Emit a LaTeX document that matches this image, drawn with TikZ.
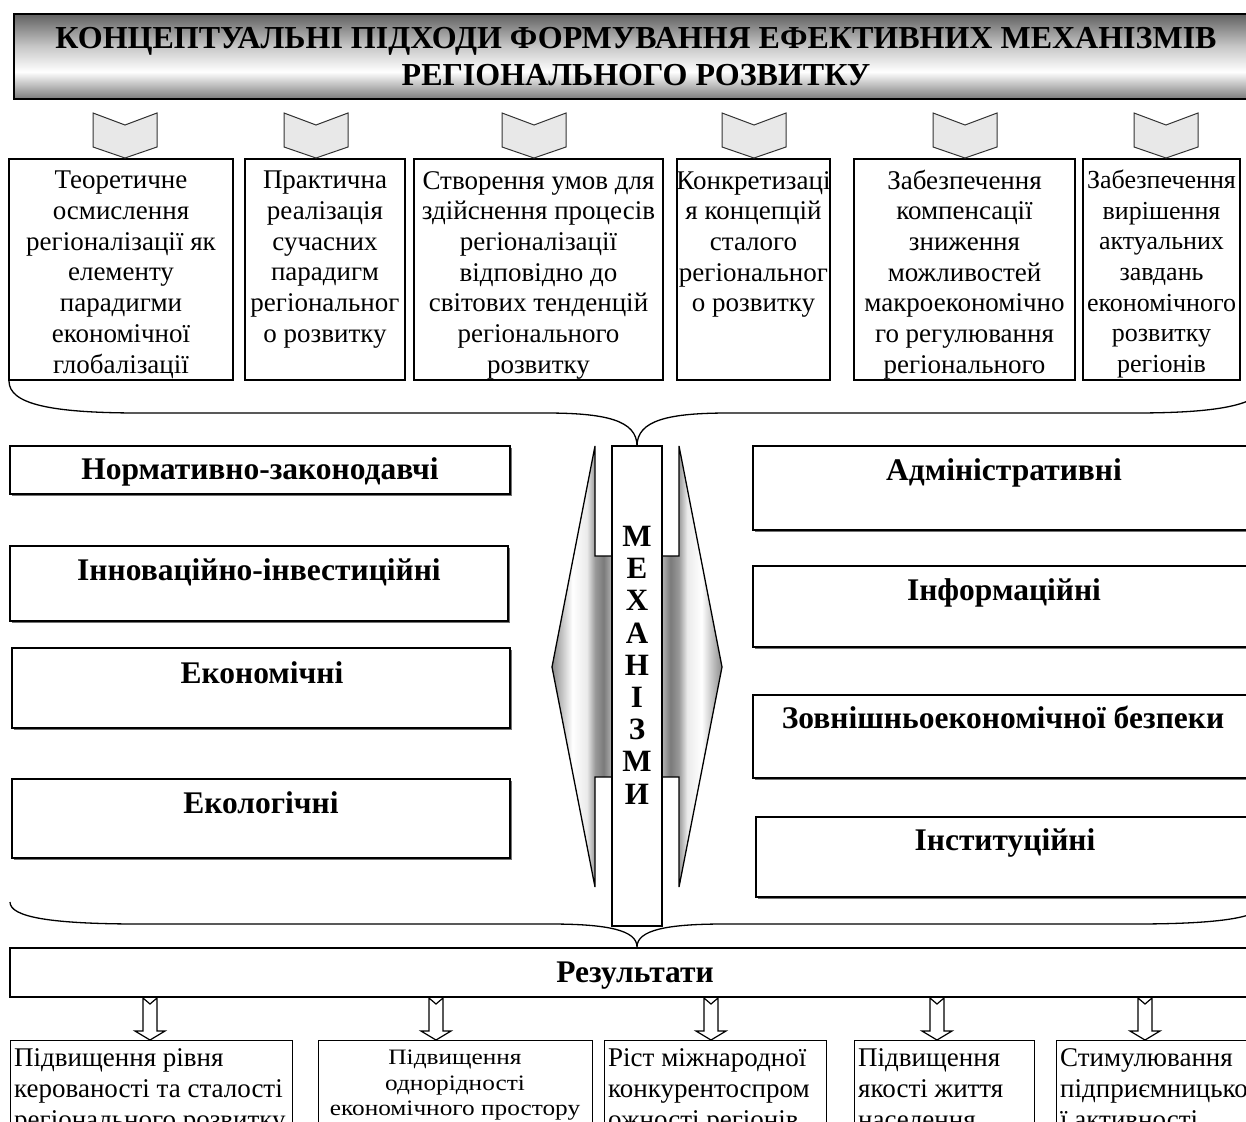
\documentclass[tikz,border=0pt]{standalone}
\usepackage{fontspec}
\setmainfont{Liberation Serif}
\usetikzlibrary{shadows,calc}
\pgfdeclareverticalshading{titleshade}{100bp}{color(0bp)=(black!52); color(25bp)=(black!52); color(41bp)=(white); color(56bp)=(black!22); color(75bp)=(black!62); color(100bp)=(black!62)}
\pgfdeclarehorizontalshading{lshade}{100bp}{color(0bp)=(black!45); color(25bp)=(black!45); color(42bp)=(white); color(54bp)=(black!8); color(61bp)=(black!40); color(68bp)=(black!52); color(75bp)=(black!30); color(100bp)=(black!30)}
\pgfdeclarehorizontalshading{rshade}{100bp}{color(0bp)=(black!30); color(25bp)=(black!30); color(32bp)=(black!52); color(39bp)=(black!40); color(46bp)=(black!8); color(58bp)=(white); color(75bp)=(black!45); color(100bp)=(black!45)}
\begin{document}
\begin{tikzpicture}[x=1pt,y=-1pt,
  box/.style={draw=black, line width=1.4pt, fill=white, rectangle, inner sep=0pt},
  sbox/.style={box, drop shadow={shadow xshift=1.6pt, shadow yshift=-1.6pt, fill=black!55, opacity=1}},
  ttxt/.style={inner sep=0pt, align=center, anchor=north, font=\fontsize{27}{30.7}\selectfont},
  btxt/.style={inner sep=0pt, align=left, anchor=north west, font=\fontsize{27}{31}\selectfont},
  mtxt/.style={inner sep=0pt, anchor=base, font=\bfseries\fontsize{31.5}{36}\selectfont},
  chev/.style={fill=black!9, draw=black!80, line width=1pt},
  hollow/.style={fill=white, draw=black, line width=1.2pt},
  brace/.style={draw=black, line width=1.3pt}
]
\useasboundingbox (0,0) rectangle (1246,1121);
\clip (0,0) rectangle (1246,1121);

% title
\node[draw=black, line width=1.4pt, shading=titleshade, minimum width=1244, minimum height=85, inner sep=0pt] (title) at (636,56.5) {};
\node[inner sep=0pt, align=center, font=\bfseries\fontsize{32}{37}\selectfont] (titletext) at (636,57) {КОНЦЕПТУАЛЬНІ ПІДХОДИ ФОРМУВАННЯ ЕФЕКТИВНИХ МЕХАНІЗМІВ\\РЕГІОНАЛЬНОГО РОЗВИТКУ};

% top boxes
\node[box, minimum width=224, minimum height=221] (b1) at (121,269.5) {};
\node[box, minimum width=160, minimum height=221] (b2) at (325,269.5) {};
\node[box, minimum width=249, minimum height=221] (b3) at (538.5,269.5) {};
\node[box, minimum width=153, minimum height=221] (b4) at (753.5,269.5) {};
\node[box, minimum width=221, minimum height=221] (b5) at (964.5,269.5) {};
\node[box, minimum width=157, minimum height=221] (b6) at (1161.5,269.5) {};

\node[ttxt] (t1) at (121,171) {Теоретичне\\осмислення\\регіоналізації як\\елементу\\парадигми\\економічної\\глобалізації};
\node[ttxt] (t2) at (325,171) {Практична\\реалізація\\сучасних\\парадигм\\регіональног\\о розвитку};
\node[ttxt] (t3) at (538.5,171) {Створення умов для\\здійснення процесів\\регіоналізації\\відповідно до\\світових тенденцій\\регіонального\\розвитку};
\node[ttxt] (t4) at (753.5,171) {Конкретизаці\\я концепцій\\сталого\\регіональног\\о розвитку};
\node[ttxt] (t5) at (964.5,169.5) {Забезпечення\\компенсації\\зниження\\можливостей\\макроекономічно\\го регулювання\\регіонального};
\node[ttxt, font=\fontsize{26}{30.7}\selectfont] (t6) at (1161.5,169.5) {Забезпечення\\вирішення\\актуальних\\завдань\\економічного\\розвитку\\регіонів};

% chevrons
\foreach \cx in {125,316,534,754,965,1166}{
  \path[chev] (\cx-32,113) -- (\cx,125) -- (\cx+32,113) -- (\cx+32,147) -- (\cx,158) -- (\cx-32,147) -- cycle;
}

% braces
\coordinate (br1L) at (9,381);
\coordinate (br1T) at (637,446);
\coordinate (br1R) at (1265,381);
\draw[brace] (br1L) .. controls (9,404) and (50,413) .. (140,413) -- (545,413) .. controls (605,413) and (637,420) .. (br1T) .. controls (637,420) and (669,413) .. (729,413) -- (1134,413) .. controls (1224,413) and (1265,404) .. (br1R);
\coordinate (br2L) at (10,902);
\coordinate (br2T) at (637,947);
\coordinate (br2R) at (1264,902);
\draw[brace] (br2L) .. controls (10,917) and (50,924) .. (140,924) -- (550,924) .. controls (607,924) and (637,930) .. (br2T) .. controls (637,930) and (667,924) .. (724,924) -- (1134,924) .. controls (1224,924) and (1264,917) .. (br2R);

% central arrows
\path[shading=lshade, draw=black, line width=1.3pt] (612,556) -- (595,556) -- (595,446) -- (552,667) -- (595,887) -- (595,777) -- (612,777) -- cycle;
\path[shading=rshade, draw=black, line width=1.3pt] (662,556) -- (679,556) -- (679,446) -- (722,667) -- (679,887) -- (679,777) -- (662,777) -- cycle;

% column
\node[box, minimum width=50, minimum height=480] (col) at (637,686) {};
\node[inner sep=0pt, anchor=north, align=center, font=\bfseries\fontsize{31}{32.2}\selectfont] (coltext) at (637,526) {М\\Е\\Х\\А\\Н\\І\\З\\М\\И};

% left boxes
\node[sbox, minimum width=500, minimum height=48] (l1) at (260,470) {};
\node[sbox, minimum width=498, minimum height=75] (l2) at (259,583.5) {};
\node[sbox, minimum width=498, minimum height=80] (l3) at (261,688) {};
\node[sbox, minimum width=498, minimum height=79] (l4) at (261,818.5) {};
\node[mtxt] (l1t) at (260,479) {Нормативно-законодавчі};
\node[mtxt] (l2t) at (259,580) {Інноваційно-інвестиційні};
\node[mtxt] (l3t) at (262,683) {Економічні};
\node[mtxt] (l4t) at (261,813) {Екологічні};

% right boxes
\node[sbox, minimum width=503, minimum height=84] (r1) at (1004.5,488) {};
\node[sbox, minimum width=503, minimum height=81] (r2) at (1004.5,606.5) {};
\node[sbox, minimum width=503, minimum height=83] (r3) at (1004.5,736.5) {};
\node[sbox, minimum width=500, minimum height=80] (r4) at (1006,857) {};
\node[mtxt] (r1t) at (1004,480) {Адміністративні};
\node[mtxt] (r2t) at (1004,600) {Інформаційні};
\node[mtxt] (r3t) at (1003,728) {Зовнішньоекономічної безпеки};
\node[mtxt] (r4t) at (1005,850) {Інституційні};

% results
\node[box, minimum width=1250, minimum height=49] (res) at (635,972.5) {};
\node[mtxt] (rest) at (635,982) {Результати};

% hollow arrows
\foreach \cx in {150,436,711,937,1145}{
  \path[hollow] (\cx-7,998) -- (\cx,1004) -- (\cx+7,998) -- (\cx+7,1031) -- (\cx+15,1031) -- (\cx,1040) -- (\cx-15,1031) -- (\cx-7,1031) -- cycle;
}

% bottom boxes
\node[box, minimum width=282, minimum height=100, anchor=north west] (o1) at (10,1040) {};
\node[box, minimum width=274, minimum height=100, anchor=north west] (o2) at (318,1040) {};
\node[box, minimum width=222, minimum height=100, anchor=north west] (o3) at (604,1040) {};
\node[box, minimum width=180, minimum height=100, anchor=north west] (o4) at (854,1040) {};
\node[box, minimum width=220, minimum height=100, anchor=north west] (o5) at (1056,1040) {};
\node[btxt] (o1t) at (14,1048) {Підвищення рівня\\керованості та сталості\\регіонального розвитку};
\node[inner sep=0pt, align=center, anchor=north, font=\fontsize{22}{25.5}\selectfont, xscale=1.15] (o2t) at (455,1050) {Підвищення\\однорідності\\економічного простору};
\node[btxt] (o3t) at (608,1048) {Ріст міжнародної\\конкурентоспром\\ожності регіонів};
\node[btxt] (o4t) at (858,1048) {Підвищення\\якості життя\\населення};
\node[btxt] (o5t) at (1060,1048) {Стимулювання\\підприємницько\\ї активності};
\end{tikzpicture}
\end{document}
